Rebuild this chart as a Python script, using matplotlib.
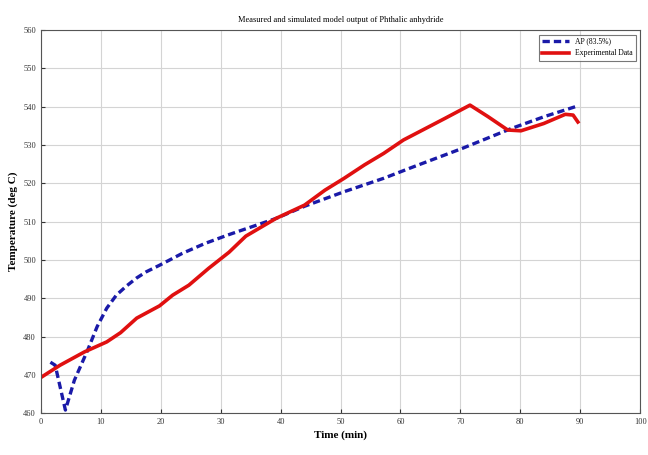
import matplotlib
matplotlib.use("Agg")
import matplotlib.pyplot as plt

# model output (AP)
ap_time = [1.6, 2.4, 4.1, 5.6, 7.8, 9.4, 11.0, 12.6, 14.3, 16.0, 17.6, 19.8,
           23.6, 27.4, 31.2, 39.2, 44.0, 50.6, 57.2, 62.0, 70.3, 78.5, 84.0, 89.6]
ap_temp = [473.3, 472.5, 460.8, 468.6, 476.4, 482.6, 487.4, 490.8, 493.2, 495.3,
           496.9, 498.6, 501.7, 504.3, 506.5, 510.8, 514.0, 517.8, 521.3, 524.2,
           529.1, 534.3, 537.4, 540.2]

# measured data
exp_time = [0, 3.2, 7.3, 11.0, 13.3, 16.0, 19.8, 22.0, 24.7, 28.0, 31.4, 34.2,
            39.2, 44.0, 47.4, 50.6, 54.0, 57.2, 60.5, 62.1, 64.8, 67.5, 71.6,
            74.6, 77.9, 80.1, 83.9, 87.5, 88.8, 89.6]
exp_temp = [469.3, 472.5, 476.0, 478.6, 481.0, 484.8, 488.0, 490.8, 493.4, 497.8,
            502.0, 506.2, 510.8, 514.3, 518.2, 521.3, 524.8, 527.8, 531.3, 532.6,
            534.8, 537.0, 540.4, 537.4, 533.9, 533.7, 535.6, 538.0, 537.8, 536.0]

fig = plt.figure(figsize=(6.48, 4.55), dpi=100)
ax = fig.add_axes([0.063, 0.092, 0.925, 0.842])

ax.plot(ap_time, ap_temp, color="#1a1aa8", linestyle=(0, (2.2, 1.2)), lw=2.4,
        label="AP (83.5%)")
ax.plot(exp_time, exp_temp, color="#e01010", lw=2.6, label="Experimental Data")

ax.set_xlim(0, 100)
ax.set_ylim(460, 560)
ax.set_xticks(range(0, 101, 10))
ax.set_yticks(range(460, 561, 10))
ax.grid(True, color="#d4d4d4", lw=0.8)
ax.tick_params(labelsize=6, direction="in", length=3, colors="#333333")
for lab in ax.get_xticklabels() + ax.get_yticklabels():
    lab.set_family("Liberation Serif")

for s in ax.spines.values():
    s.set_color("#555555")
    s.set_linewidth(0.8)

ax.set_title("Measured and simulated model output of Phthalic anhydride",
             fontsize=6, family="Liberation Serif", pad=6)
ax.set_xlabel("Time (min)", fontsize=8, fontweight="bold",
              family="Liberation Serif", labelpad=3)
ax.set_ylabel("Temperature (deg C)", fontsize=8, fontweight="bold",
              family="Liberation Serif", labelpad=4)

leg = ax.legend(loc="upper right", frameon=True, fancybox=False,
                edgecolor="#555555", handlelength=3.5, borderaxespad=0.6,
                prop={"family": "Liberation Serif", "size": 5.5})
leg.get_frame().set_linewidth(0.8)

fig.savefig("out.png", dpi=100)
